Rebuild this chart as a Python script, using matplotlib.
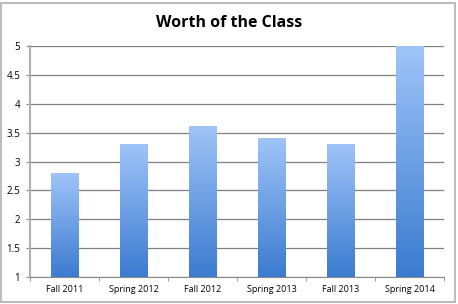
import numpy as np
import matplotlib
matplotlib.use("Agg")
import matplotlib.pyplot as plt
from matplotlib.colors import LinearSegmentedColormap
from matplotlib.patches import Rectangle

# data
semesters = ["Fall 2011", "Spring 2012", "Fall 2012", "Spring 2013", "Fall 2013", "Spring 2014"]
worth = [2.8, 3.3, 3.6, 3.4, 3.3, 5.0]
y_ticks = [1, 1.5, 2, 2.5, 3, 3.5, 4, 4.5, 5]
y_tick_labels = ["1", "1.5", "2", "2.5", "3", "3.5", "4", "4.5", "5"]

plt.rcParams['font.family'] = ['Open Sans', 'DejaVu Sans']

fig = plt.figure(figsize=(4.58, 3.04), dpi=100)
ax = fig.add_axes([30 / 458, 27 / 304, 414 / 458, 231 / 304])

# border around the whole chart
fig.patches.append(Rectangle((0.003, 0.005), 0.991, 0.985, transform=fig.transFigure,
                             fill=False, edgecolor="#bdbdbd", linewidth=1.5))

fig.text(0.5, 0.924, "Worth of the Class", ha="center", va="center",
         fontsize=11.5, fontweight="bold")

# gradient from dark blue (bottom) to light blue (top), one per bar
cmap = LinearSegmentedColormap.from_list("bar", ["#3b7bd0", "#9fc4f8"])
grad = np.linspace(0, 1, 256).reshape(-1, 1)
x = np.arange(len(semesters))
width = 0.4
ymin = 1
bars = ax.bar(x, np.array(worth) - ymin, bottom=ymin, width=width, color="none", zorder=3)
for b in bars:
    x0, y0 = b.get_x(), b.get_y()
    ax.imshow(grad, extent=[x0, x0 + b.get_width(), y0, y0 + b.get_height()],
              origin="lower", cmap=cmap, aspect="auto", zorder=3)

ax.set_xlim(-0.5, len(semesters) - 0.5)
ax.set_ylim(1, 5)
ax.set_yticks(y_ticks)
ax.set_yticklabels(y_tick_labels)
ax.set_xticks(x)
ax.set_xticklabels(semesters)
ax.set_xticks(np.arange(-0.5, len(semesters)), minor=True)
ax.tick_params(axis="x", which="major", length=0, labelsize=6.5, pad=6)
ax.tick_params(axis="x", which="minor", length=3, color="#888888")
ax.tick_params(axis="y", length=3, color="#888888", labelsize=7, pad=4)

ax.grid(axis="y", color="#808080", linewidth=0.9, zorder=1)
ax.set_axisbelow(True)
for side in ["top", "right"]:
    ax.spines[side].set_visible(False)
ax.spines["left"].set_color("#b0b0b0")
ax.spines["left"].set_linewidth(1.5)
ax.spines["bottom"].set_color("#888888")

fig.savefig("out.png", dpi=100)
